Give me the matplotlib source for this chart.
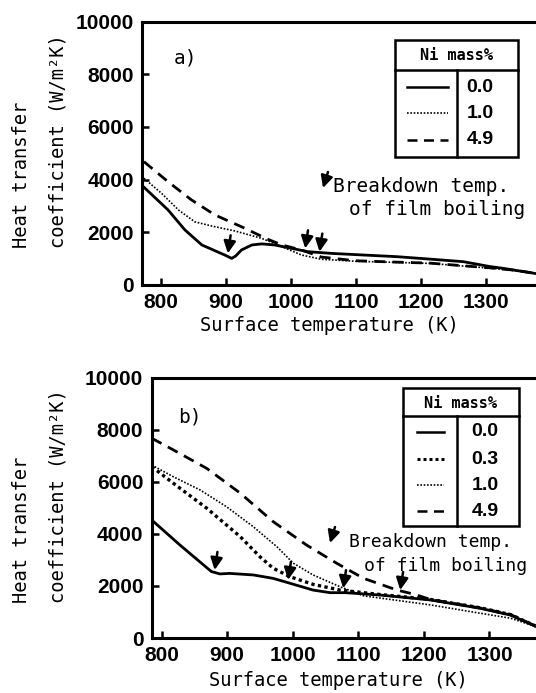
import matplotlib
matplotlib.use("Agg")
import matplotlib.pyplot as plt
from matplotlib.lines import Line2D
from matplotlib.patches import Rectangle, FancyArrowPatch

W, H = 536, 693

# ---- panel a) values (K, W/m2K) ----
a_t_00 = [774, 811, 837, 863, 898, 909, 915, 924, 940, 955, 975, 1001, 1026, 1062, 1110, 1163, 1215, 1265, 1306, 1327, 1375]
a_h_00 = [3710, 2850, 2090, 1520, 1140, 1010, 1100, 1330, 1520, 1560, 1520, 1390, 1265, 1200, 1140, 1075, 980, 885, 700, 630, 440]
a_t_10 = [774, 801, 827, 852, 878, 914, 955, 986, 1016, 1047, 1100, 1160, 1214, 1275, 1306, 1340, 1375]
a_h_10 = [4050, 3480, 2850, 2400, 2240, 2050, 1770, 1455, 1140, 975, 900, 860, 820, 700, 640, 560, 440]
a_t_49 = [774, 811, 847, 883, 924, 965, 986, 1016, 1047, 1100, 1160, 1214, 1275, 1306, 1340, 1375]
a_h_49 = [4680, 3920, 3230, 2660, 2210, 1730, 1520, 1330, 1060, 920, 870, 830, 710, 650, 570, 450]
a_break_t = [903, 1022, 1044]
a_break_h = [1200, 1390, 1265]

# ---- panel b) ----
b_t_00 = [785, 828, 876, 889, 904, 940, 970, 996, 1031, 1057, 1080, 1133, 1210, 1286, 1332, 1372]
b_h_00 = [4530, 3570, 2550, 2460, 2480, 2420, 2290, 2100, 1840, 1740, 1740, 1650, 1460, 1140, 880, 430]
b_t_03 = [785, 818, 869, 920, 950, 970, 996, 1031, 1072, 1133, 1210, 1286, 1332, 1372]
b_h_03 = [6580, 5940, 4980, 3890, 3120, 2680, 2350, 2060, 1840, 1670, 1480, 1160, 900, 440]
b_t_10 = [785, 818, 859, 899, 940, 976, 1001, 1031, 1072, 1108, 1210, 1286, 1332, 1372]
b_h_10 = [6640, 6190, 5680, 5040, 4270, 3500, 2870, 2420, 1970, 1620, 1270, 950, 760, 430]
b_t_49 = [785, 818, 869, 920, 970, 1021, 1067, 1108, 1159, 1185, 1210, 1286, 1332, 1372]
b_h_49 = [7670, 7220, 6510, 5560, 4470, 3570, 2870, 2290, 1840, 1680, 1480, 1150, 900, 440]
b_break_t = [881, 993, 1077, 1164]
b_break_h = [2610, 2230, 1910, 1840]

x_ticks = [800, 900, 1000, 1100, 1200, 1300]
y_ticks = [0, 2000, 4000, 6000, 8000, 10000]

MONO = "DejaVu Sans Mono"
TICKFONT = ["Liberation Sans Narrow", "Liberation Sans", "DejaVu Sans"]

STYLES = {
    "0.0": dict(ls="-", lw=2.0),
    "0.3": dict(ls=(0, (1, 1)), lw=2.4),
    "1.0": dict(ls=(0, (1, 1)), lw=1.2),
    "4.9": dict(ls=(0, (4, 2.6)), lw=2.0),
}
ARROW = "-|>,head_length=0.6,head_width=0.3"


def fx(px):
    return px / W


def fy(py):
    return 1 - py / H


def style_axes(ax):
    ax.set_xticks(x_ticks)
    ax.set_yticks(y_ticks)
    ax.set_ylim(0, 10000)
    ax.tick_params(direction="in", length=5, width=1.8, pad=6,
                   top=False, right=False)
    for lab in ax.get_xticklabels() + ax.get_yticklabels():
        lab.set_family(TICKFONT)
        lab.set_fontweight("bold")
        lab.set_fontsize(15)
    for side in ["left", "bottom", "top"]:
        ax.spines[side].set_linewidth(2.2)
    ax.spines["right"].set_visible(False)


def break_arrows(ax, temps, vals):
    for t, v in zip(temps, vals):
        ax.annotate("", xy=(t, v), xytext=(2, 13), textcoords="offset points",
                    arrowprops=dict(arrowstyle=ARROW, mutation_scale=12,
                                    lw=1.8, color="k", shrinkA=0, shrinkB=0))


def legend_table(fig, box, hdr_y, vdiv, rows, sample_x, num_x):
    x0, y0, x1, y1 = box
    fig.add_artist(Rectangle((fx(x0), fy(y1)), fx(x1) - fx(x0), fy(y0) - fy(y1),
                             transform=fig.transFigure, fill=False, lw=1.8, ec="k"))
    fig.add_artist(Line2D([fx(x0), fx(x1)], [fy(hdr_y), fy(hdr_y)],
                          transform=fig.transFigure, lw=1.8, color="k"))
    fig.add_artist(Line2D([fx(vdiv), fx(vdiv)], [fy(hdr_y), fy(y1)],
                          transform=fig.transFigure, lw=1.8, color="k"))
    fig.text(fx((x0 + x1) / 2), fy((y0 + hdr_y) / 2 + 1), "Ni mass%", family=MONO,
             fontsize=11, fontweight="bold", ha="center", va="center")
    for name, py in rows:
        st = STYLES[name]
        lw = 1.2 if name == "1.0" else st["lw"] * 0.9
        fig.add_artist(Line2D([fx(sample_x[0]), fx(sample_x[1])], [fy(py), fy(py)],
                              transform=fig.transFigure, color="k", ls=st["ls"], lw=lw))
        fig.text(fx(num_x), fy(py), name, family=TICKFONT, fontweight="bold",
                 fontsize=14, ha="center", va="center")


def breakdown_note(fig, glyph, line1, line2, size):
    fig.add_artist(FancyArrowPatch(
        (fx(glyph[0]), fy(glyph[1])), (fx(glyph[2]), fy(glyph[3])),
        transform=fig.transFigure, arrowstyle=ARROW,
        lw=1.8, color="k", mutation_scale=12, shrinkA=0, shrinkB=0))
    fig.text(fx(line1[0]), fy(line1[1]), "Breakdown temp.", family=MONO,
             fontsize=size, ha="left", va="center")
    fig.text(fx(line2[0]), fy(line2[1]), "of film boiling", family=MONO,
             fontsize=size, ha="left", va="center")


def axis_labels(fig, bottom_py, xlabel_py, xlabel_px):
    fig.text(fx(22), fy(bottom_py), "Heat transfer", family=MONO, fontsize=13.5,
             rotation=90, ha="center", va="bottom")
    fig.text(fx(58), fy(bottom_py), "coefficient (W/m²K)", family=MONO, fontsize=13.5,
             rotation=90, ha="center", va="bottom")
    fig.text(fx(xlabel_px), fy(xlabel_py), "Surface temperature (K)", family=MONO,
             fontsize=13.5, ha="center", va="center")


fig = plt.figure(figsize=(W / 100, H / 100), dpi=100)

# panel a
ax_a = fig.add_axes([fx(142), fy(285), fx(540) - fx(142), fy(21.5) - fy(285)])
ax_a.set_xlim(771, 1383)
ax_a.plot(a_t_00, a_h_00, color="k", **STYLES["0.0"])
ax_a.plot(a_t_10, a_h_10, color="k", **STYLES["1.0"])
ax_a.plot(a_t_49, a_h_49, color="k", **STYLES["4.9"])
style_axes(ax_a)
break_arrows(ax_a, a_break_t, a_break_h)
fig.text(fx(174), fy(58), "a)", family=MONO, fontsize=14, ha="left", va="center")
legend_table(fig, (395, 40, 518, 157), 70, 457,
             [("0.0", 87), ("1.0", 113), ("4.9", 140)], (407, 448), 480)
breakdown_note(fig, (328, 172, 323, 188), (333, 186), (349, 210), 14)
axis_labels(fig, 248, 325, 329)

# panel b
ax_b = fig.add_axes([fx(151.7), fy(638), fx(540) - fx(151.7), fy(377.5) - fy(638)])
ax_b.set_xlim(785, 1377)
ax_b.plot(b_t_00, b_h_00, color="k", **STYLES["0.0"])
ax_b.plot(b_t_03, b_h_03, color="k", **STYLES["0.3"])
ax_b.plot(b_t_10, b_h_10, color="k", **STYLES["1.0"])
ax_b.plot(b_t_49, b_h_49, color="k", **STYLES["4.9"])
style_axes(ax_b)
break_arrows(ax_b, b_break_t, b_break_h)
fig.text(fx(178), fy(417), "b)", family=MONO, fontsize=14, ha="left", va="center")
legend_table(fig, (403, 388, 519, 526), 416, 457,
             [("0.0", 432), ("0.3", 459), ("1.0", 485), ("4.9", 511)], (417, 444), 485)
breakdown_note(fig, (335, 527, 330, 543), (349, 542), (364, 566), 13)
axis_labels(fig, 603, 680, 338)

fig.savefig("out.png", dpi=100)
